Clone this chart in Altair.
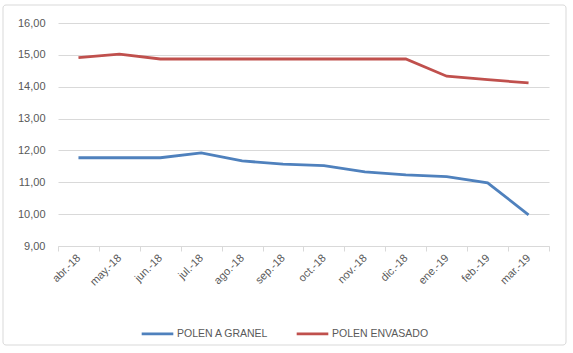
import altair as alt
import pandas as pd

months = ["abr.-18", "may.-18", "jun.-18", "jul.-18", "ago.-18", "sep.-18",
          "oct.-18", "nov.-18", "dic.-18", "ene.-19", "feb.-19", "mar.-19"]
granel = [11.77, 11.77, 11.77, 11.92, 11.67, 11.57, 11.52, 11.33, 11.23, 11.18, 10.98, 9.98]
envasado = [14.91, 15.02, 14.87, 14.87, 14.87, 14.87, 14.87, 14.87, 14.87, 14.33, 14.22, 14.12]
series = ["POLEN A GRANEL", "POLEN ENVASADO"]
colors = ["#4f81bd", "#c0504d"]

rows = []
for m, g, e in zip(months, granel, envasado):
    rows.append({"mes": m, "serie": series[0], "precio": g})
    rows.append({"mes": m, "serie": series[1], "precio": e})
df = pd.DataFrame(rows)

FONT = "Liberation Sans"

lines = alt.Chart(df).mark_line(strokeWidth=2.8).encode(
    x=alt.X("mes:N", sort=months, title=None,
            scale=alt.Scale(paddingInner=0, paddingOuter=0),
            axis=alt.Axis(labelAngle=-45, labelAlign="right", labelBaseline="middle",
                          tickBand="extent", grid=False, domainColor="#d9d9d9",
                          tickColor="#d9d9d9", tickSize=5, labelColor="#595959",
                          labelFontSize=11, labelFont=FONT, labelPadding=5)),
    y=alt.Y("precio:Q", title=None,
            scale=alt.Scale(domain=[9, 16], nice=False, zero=False),
            axis=alt.Axis(values=[9, 10, 11, 12, 13, 14, 15, 16],
                          labelExpr="replace(format(datum.value, '.2f'), '.', ',')",
                          domain=False, ticks=False, gridColor="#d9d9d9",
                          labelColor="#595959", labelFontSize=11, labelFont=FONT,
                          labelPadding=13)),
    color=alt.Color("serie:N", scale=alt.Scale(domain=series, range=colors),
                    legend=alt.Legend(title=None, orient="none", legendX=82, legendY=293,
                                      direction="horizontal", symbolType="stroke",
                                      symbolSize=1000, symbolStrokeWidth=2.8,
                                      labelFontSize=10.5, labelFont=FONT,
                                      labelColor="#595959", columnPadding=22,
                                      labelOffset=2)),
)

border = alt.Chart(pd.DataFrame({"a": [0]})).mark_rect(
    fill="white", fillOpacity=0, stroke="#d9d9d9", strokeWidth=1, cornerRadius=3,
    clip=False
).encode(x=alt.value(-55), x2=alt.value(508), y=alt.value(-18), y2=alt.value(322))

chart = alt.layer(border, lines).properties(
    width=491, height=223,
    autosize=alt.AutoSizeParams(type="none"),
    padding={"left": 58, "top": 23, "right": 24, "bottom": 107},
    background="white",
).configure_view(stroke=None)

chart.save("out.html", embed_options={"renderer": "svg", "actions": False})
